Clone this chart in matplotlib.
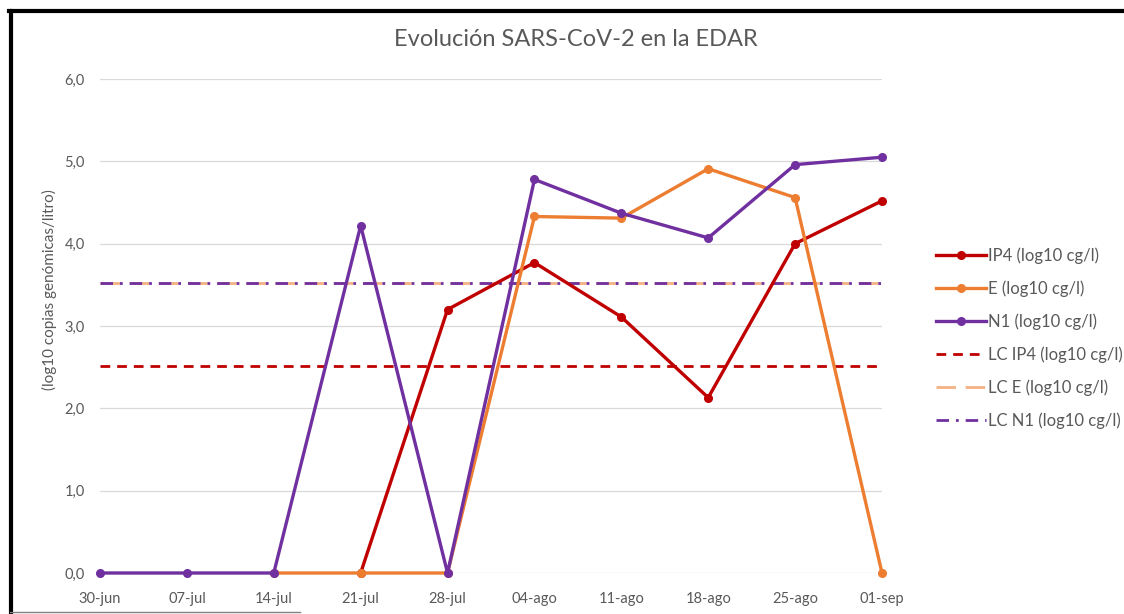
import numpy as np
import matplotlib
matplotlib.use("Agg")
from matplotlib import pyplot as plt
from matplotlib.lines import Line2D

# Data (log10 copias genómicas/litro)
fechas = ["30-jun", "07-jul", "14-jul", "21-jul", "28-jul",
          "04-ago", "11-ago", "18-ago", "25-ago", "01-sep"]
ip4 = [np.nan, np.nan, np.nan, 0.0, 3.20, 3.77, 3.11, 2.13, 4.00, 4.52]
gen_e = [np.nan, np.nan, 0.0, 0.0, 0.0, 4.33, 4.31, 4.91, 4.56, 0.0]
n1 = [0.0, 0.0, 0.0, 4.22, 0.0, 4.78, 4.37, 4.07, 4.96, 5.05]
lc_ip4 = 2.52
lc_e = 3.52
lc_n1 = 3.52
y_ticks = [0, 1, 2, 3, 4, 5, 6]

plt.rcParams["font.family"] = ["Lato", "DejaVu Sans"]
grey_txt = "#595959"
c_ip4 = "#C00000"
c_e = "#ED7D31"
c_lce = "#F4B183"
c_n1 = "#7030A0"

fig = plt.figure(figsize=(11.24, 6.14), dpi=100)
ax = fig.add_axes([100 / 1124, 41 / 614, 782 / 1124, 494 / 614])

x = np.arange(len(fechas))

# limit-of-quantification lines
ax.plot([x[0], x[-1]], [lc_ip4, lc_ip4], color=c_ip4, lw=2, ls=(0, (3.5, 2.5)))
ax.plot([x[0], x[-1]], [lc_e, lc_e], color=c_lce, lw=2, ls=(0, (7, 3.5)))
ax.plot([x[0], x[-1]], [lc_n1, lc_n1], color=c_n1, lw=2, ls=(0, (4.5, 2.5, 1, 2.5)))

for vals, col in [(ip4, c_ip4), (gen_e, c_e), (n1, c_n1)]:
    ax.plot(x, vals, color=col, lw=2.4, marker="o", ms=5.5, clip_on=False, zorder=3)

ax.set_xlim(x[0], x[-1])
ax.set_ylim(0, 6)
ax.set_yticks(y_ticks)
ax.set_yticklabels([f"{v:.1f}".replace(".", ",") for v in y_ticks])
ax.set_xticks(x)
ax.set_xticklabels(fechas)
ax.tick_params(axis="both", length=0, labelsize=10.5, labelcolor=grey_txt)
ax.tick_params(axis="y", pad=11)
ax.tick_params(axis="x", pad=14)
ax.grid(axis="y", color="#D9D9D9", lw=0.9)
ax.set_axisbelow(True)
for s in ax.spines.values():
    s.set_visible(False)

fig.text(576 / 1124, 1 - 40 / 614, "Evolución SARS-CoV-2 en la EDAR",
         ha="center", va="center", fontsize=17, color=grey_txt)
fig.text(49 / 1124, 1 - 290 / 614, "(log10 copias genómicas/litro)",
         ha="center", va="center", rotation=90, fontsize=11, color=grey_txt)

handles = [
    Line2D([], [], color=c_ip4, lw=2.4, marker="o", ms=5.5),
    Line2D([], [], color=c_e, lw=2.4, marker="o", ms=5.5),
    Line2D([], [], color=c_n1, lw=2.4, marker="o", ms=5.5),
    Line2D([], [], color=c_ip4, lw=2, ls=(0, (3.5, 2.5))),
    Line2D([], [], color=c_lce, lw=2, ls=(0, (7, 3.5))),
    Line2D([], [], color=c_n1, lw=2, ls=(0, (4.5, 2.5, 1, 2.5))),
]
labels = ["IP4 (log10 cg/l)", "E (log10 cg/l)", "N1 (log10 cg/l)",
          "LC IP4 (log10 cg/l)", "LC E (log10 cg/l)", "LC N1 (log10 cg/l)"]
leg = fig.legend(handles, labels, loc="center left",
                 bbox_to_anchor=(936 / 1124, 1 - 338 / 614),
                 frameon=False, fontsize=12, handlelength=3.0,
                 handletextpad=0.15, labelspacing=0.98, borderpad=0,
                 borderaxespad=0)
for t in leg.get_texts():
    t.set_color(grey_txt)

# border of the pasted chart image
fig.add_artist(Line2D([10.5 / 1124, 10.5 / 1124], [0, 1 - 11 / 614],
                      color="black", lw=3, transform=fig.transFigure))
fig.add_artist(Line2D([9 / 1124, 1], [1 - 11 / 614, 1 - 11 / 614],
                      color="black", lw=3, transform=fig.transFigure))
fig.add_artist(Line2D([10 / 1124, 300 / 1124], [1 - 612 / 614, 1 - 612 / 614],
                      color="#808080", lw=1, transform=fig.transFigure))

fig.savefig("out.png", dpi=100)
